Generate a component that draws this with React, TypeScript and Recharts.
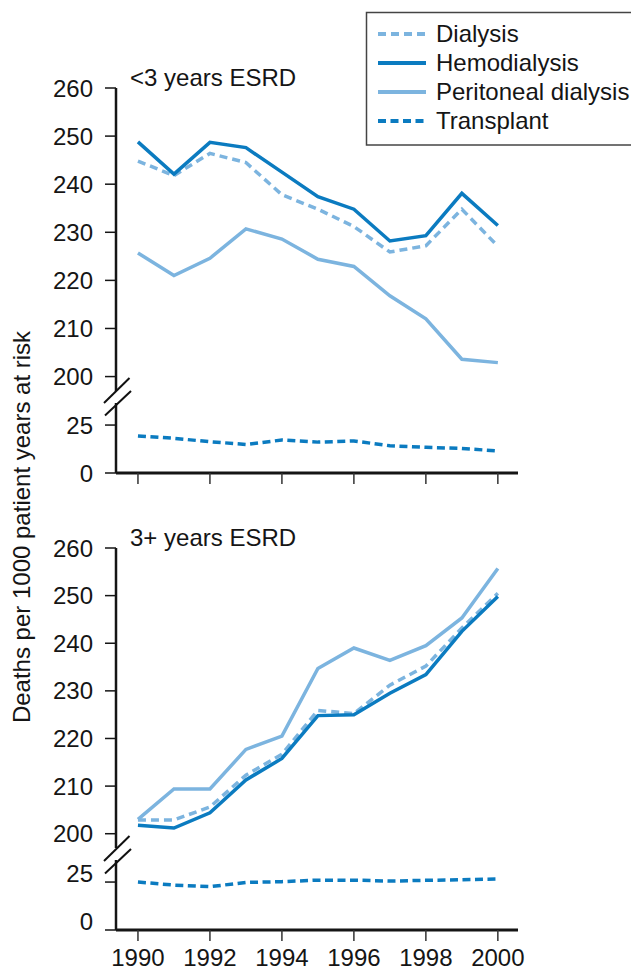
import React from "react";
import { LineChart, Line, XAxis, YAxis } from "recharts";

const years = [1990, 1991, 1992, 1993, 1994, 1995, 1996, 1997, 1998, 1999, 2000];
const xTicks = [1990, 1992, 1994, 1996, 1998, 2000];
const upperTicks = [200, 210, 220, 230, 240, 250, 260];
const lowerTicks = [0, 25];

// <3 years ESRD
const dialysisLt3 = [244.8, 241.8, 246.4, 244.5, 237.8, 234.8, 231.2, 225.9, 227.2, 234.8, 227.1];
const hemoLt3 = [248.8, 242.1, 248.7, 247.6, 242.5, 237.4, 234.8, 228.2, 229.3, 238.1, 231.4];
const periLt3 = [225.7, 221.0, 224.6, 230.7, 228.6, 224.4, 222.9, 216.8, 212.0, 203.6, 202.9];
const transLt3 = [19.3, 18.1, 16.3, 14.9, 17.2, 16.1, 16.7, 14.2, 13.4, 12.8, 11.5];

// 3+ years ESRD
const dialysisGe3 = [202.9, 202.9, 205.6, 212.3, 216.7, 225.9, 225.2, 231.2, 235.2, 243.2, 250.5];
const hemoGe3 = [201.8, 201.2, 204.4, 211.3, 215.8, 224.8, 225.0, 229.5, 233.4, 242.5, 249.8];
const periGe3 = [203.0, 209.4, 209.4, 217.7, 220.5, 234.7, 239.0, 236.4, 239.5, 245.3, 255.7];
const transGe3 = [25.0, 23.4, 22.6, 24.8, 25.2, 26.0, 26.0, 25.5, 25.9, 26.2, 26.6];

const DARK = "#0b7bc0";
const LIGHT = "#7cb4df";
const AXIS = "#151515";
const TEXT = "#151515";
const FONT = "'Liberation Sans', Arial, sans-serif";
const FS = 24;

const series = [
  { key: "dialysis", name: "Dialysis", color: LIGHT, dash: "8 5", lower: false },
  { key: "hemo", name: "Hemodialysis", color: DARK, dash: undefined, lower: false },
  { key: "peri", name: "Peritoneal dialysis", color: LIGHT, dash: undefined, lower: false },
  { key: "trans", name: "Transplant", color: DARK, dash: "8 4.5", lower: true },
];

const buildRows = (d: number[], h: number[], p: number[], t: number[]) =>
  years.map((year, i) => ({ year, dialysis: d[i], hemo: h[i], peri: p[i], trans: t[i] }));

const lt3Rows = buildRows(dialysisLt3, hemoLt3, periLt3, transLt3);
const ge3Rows = buildRows(dialysisGe3, hemoGe3, periGe3, transGe3);

const X_DOMAIN: [number, number] = [1989.39, 2000.56];

const panels = [
  { title: "<3 years ESRD", rows: lt3Rows, upperTop: 88, upperHeight: 303, lowerTop: 403, xLabels: false, tickShift: 0, offset: 0 },
  { title: "3+ years ESRD", rows: ge3Rows, upperTop: 548, upperHeight: 300, lowerTop: 860, xLabels: true, tickShift: -9, offset: 458 },
];

type PanelProps = (typeof panels)[number];

const Panel: React.FC<PanelProps> = ({ rows, upperTop, upperHeight, lowerTop, xLabels, tickShift }) => {
  const xh = xLabels ? 43 : 15;
  return (
    <>
      <div style={{ position: "absolute", left: 0, top: upperTop - 12 }}>
        <LineChart
          width={631}
          height={12 + upperHeight + 12}
          data={rows}
          margin={{ top: 12, right: 113, bottom: 12, left: 0 }}
        >
          <XAxis dataKey="year" type="number" domain={X_DOMAIN} allowDataOverflow hide />
          <YAxis
            type="number"
            domain={[197, 260]}
            ticks={upperTicks}
            allowDataOverflow
            interval={0}
            width={116}
            tickSize={11}
            tickMargin={12}
            axisLine={{ stroke: AXIS, strokeWidth: 2.5 }}
            tickLine={{ stroke: AXIS, strokeWidth: 1.5 }}
            tick={{ fontSize: FS, fill: TEXT }}
          />
          {series
            .filter((s) => !s.lower)
            .map((s) => (
              <Line
                key={s.key}
                type="linear"
                dataKey={s.key}
                name={s.name}
                stroke={s.color}
                strokeWidth={3.5}
                strokeDasharray={s.dash}
                dot={false}
                isAnimationActive={false}
              />
            ))}
        </LineChart>
      </div>
      <div style={{ position: "absolute", left: 0, top: lowerTop - 12 }}>
        <LineChart
          width={631}
          height={12 + 70 + xh}
          data={rows}
          margin={{ top: 12, right: 113, bottom: 0, left: 0 }}
        >
          <XAxis
            dataKey="year"
            type="number"
            domain={X_DOMAIN}
            allowDataOverflow
            ticks={xTicks}
            interval={0}
            height={xh}
            tickSize={11}
            tickMargin={8}
            axisLine={{ stroke: AXIS, strokeWidth: 3 }}
            tickLine={{ stroke: "#333", strokeWidth: 1.5 }}
            tick={{ fontSize: FS, fill: TEXT }}
            tickFormatter={(v: number) => (xLabels ? String(v) : "")}
          />
          <YAxis
            type="number"
            domain={[0, 36.5]}
            ticks={lowerTicks}
            allowDataOverflow
            interval={0}
            width={116}
            tickSize={11}
            tickMargin={12}
            axisLine={{ stroke: AXIS, strokeWidth: 2.5 }}
            tickLine={{ stroke: AXIS, strokeWidth: 1.5 }}
            tick={{ fontSize: FS, fill: TEXT, dy: tickShift }}
          />
          {series
            .filter((s) => s.lower)
            .map((s) => (
              <Line
                key={s.key}
                type="linear"
                dataKey={s.key}
                name={s.name}
                stroke={s.color}
                strokeWidth={3.5}
                strokeDasharray={s.dash}
                dot={false}
                isAnimationActive={false}
              />
            ))}
        </LineChart>
      </div>
    </>
  );
};

const legendY = [34, 63, 92, 121];

export default function App() {
  return (
    <div
      style={{
        position: "absolute",
        left: 0,
        top: 0,
        width: 631,
        height: 973,
        overflow: "hidden",
        background: "#fff",
        fontFamily: FONT,
      }}
    >
      {panels.map((p) => (
        <Panel key={p.title} {...p} />
      ))}
      <svg
        width={631}
        height={973}
        style={{ position: "absolute", left: 0, top: 0, pointerEvents: "none" }}
        fontFamily={FONT}
      >
        <text
          transform="translate(30,527) rotate(-90)"
          textAnchor="middle"
          fontSize={FS}
          fill={TEXT}
        >
          Deaths per 1000 patient years at risk
        </text>
        {panels.map((p) => (
          <g key={p.title}>
            <text x={130} y={p.upperTop - 2} fontSize={FS} fill={TEXT}>
              {p.title}
            </text>
            <line x1={104} y1={403 + p.offset} x2={129.5} y2={378 + p.offset} stroke="#111" strokeWidth={2} />
            <line x1={105} y1={415.5 + p.offset} x2={131} y2={391 + p.offset} stroke="#111" strokeWidth={2} />
          </g>
        ))}
        <rect x={366.5} y={12.5} width={300} height={132.5} fill="#fff" stroke="#444" strokeWidth={1.5} />
        {series.map((s, i) => (
          <g key={s.key}>
            <line
              x1={378}
              x2={426}
              y1={legendY[i]}
              y2={legendY[i]}
              stroke={s.color}
              strokeWidth={4}
              strokeDasharray={s.dash}
            />
            <text x={436} y={legendY[i] + 8} fontSize={FS} fill={TEXT}>
              {s.name}
            </text>
          </g>
        ))}
      </svg>
    </div>
  );
}
